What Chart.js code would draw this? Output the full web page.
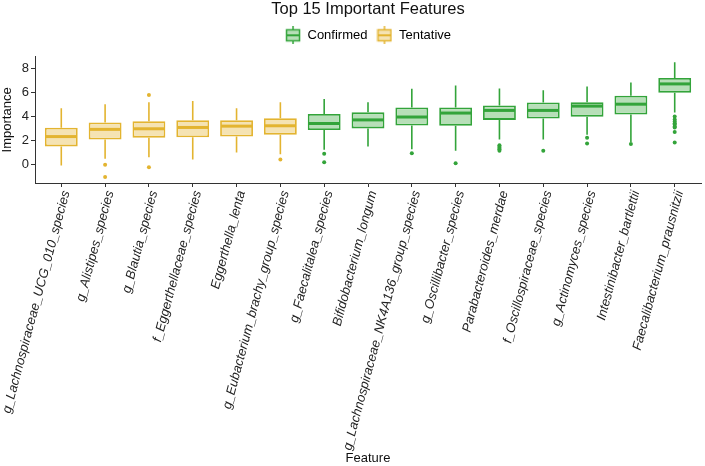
<!DOCTYPE html>
<html>
<head>
<meta charset="utf-8">
<script src="https://cdn.jsdelivr.net/npm/chart.js@4.4.1/dist/chart.umd.min.js"></script>
<style>
html, body { margin:0; padding:0; background:#fff; }
#wrap { width:705px; height:466px; }
</style>
</head>
<body>
<div id="wrap"><canvas id="chart"></canvas></div>
<script>
// 특징 이름 / 판정
var features = ['g_Lachnospiraceae_UCG_010_species', 'g_Alistipes_species', 'g_Blautia_species',
	'f_Eggerthellaceae_species', 'Eggerthella_lenta', 'g_Eubacterium_brachy_group_species',
	'g_Faecalitalea_species', 'Bifidobacterium_longum', 'g_Lachnospiraceae_NK4A136_group_species',
	'g_Oscillibacter_species', 'Parabacteroides_merdae', 'f_Oscillospiraceae_species',
	'g_Actinomyces_species', 'Intestinibacter_bartlettii', 'Faecalibacterium_prausnitzii'];
var decision = ['Tentative', 'Tentative', 'Tentative', 'Tentative', 'Tentative', 'Tentative',
	'Confirmed', 'Confirmed', 'Confirmed', 'Confirmed', 'Confirmed', 'Confirmed',
	'Confirmed', 'Confirmed', 'Confirmed'];

// 박스플롯 값
var whiskerLow  = [-0.12, 0.45, 0.57, 0.38, 0.97, 0.83, 1.20, 1.48, 1.25, 1.12, 2.05, 2.05, 2.45, 1.85, 4.30];
var q1          = [1.48, 2.05, 2.21, 2.24, 2.30, 2.46, 2.84, 2.98, 3.22, 3.20, 3.69, 3.80, 3.96, 4.13, 5.96];
var median      = [2.30, 2.90, 2.95, 3.06, 3.17, 3.20, 3.39, 3.69, 3.93, 4.26, 4.48, 4.48, 4.84, 5.00, 6.69];
var q3          = [3.03, 3.47, 3.58, 3.66, 3.66, 3.83, 4.18, 4.32, 4.73, 4.73, 4.89, 5.14, 5.16, 5.71, 7.19];
var whiskerHigh = [4.67, 5.00, 5.16, 5.27, 4.67, 5.16, 5.44, 5.16, 6.28, 6.56, 6.31, 6.17, 6.48, 6.80, 8.50];
var outliers = [[], [-0.05, -1.07], [5.77, -0.25], [], [], [0.38], [0.87, 0.16], [], [0.90], [0.08],
	[1.58, 1.45, 1.35, 1.25, 1.12], [1.12], [2.20, 1.72], [1.68],
	[3.98, 3.72, 3.55, 3.42, 3.30, 3.15, 3.05, 2.68, 1.80]];

var yTicks = [0, 2, 4, 6, 8];
var groups = ['Confirmed', 'Tentative'];

var strokes = { Confirmed: '#33a43a', Tentative: '#e3b430' };
var fills = { Confirmed: '#b7dfb8', Tentative: '#f5e3b3' };
var boxRatio = 0.75;

// 범례 아이콘
function makeIcon(stroke, fill) {
	var c = document.createElement('canvas');
	c.width = 16; c.height = 18;
	var g = c.getContext('2d');
	g.strokeStyle = stroke;
	g.lineWidth = 1.5;
	g.beginPath(); g.moveTo(8, 0); g.lineTo(8, 18); g.stroke();
	g.fillStyle = fill;
	g.fillRect(1.5, 3.5, 13, 11);
	g.strokeRect(1.5, 3.5, 13, 11);
	g.lineWidth = 2;
	g.beginPath(); g.moveTo(1.5, 9); g.lineTo(14.5, 9); g.stroke();
	return c;
}

var datasets = [];
groups.forEach(function (grp) {
	var boxes = [];
	features.forEach(function (f, i) {
		if (decision[i] == grp) boxes.push({ x: i, y: [q1[i], q3[i]] });
	});
	datasets.push({
		type: 'bar', label: grp, data: boxes,
		backgroundColor: fills[grp], borderColor: strokes[grp], borderWidth: 1.8,
		borderSkipped: false, grouped: false,
		barPercentage: boxRatio, categoryPercentage: 1
	});
});
groups.forEach(function (grp) {
	var pts = [];
	features.forEach(function (f, i) {
		if (decision[i] != grp) return;
		outliers[i].forEach(function (v) { pts.push({ x: i, y: v }); });
	});
	datasets.push({
		type: 'scatter', label: grp + ' outliers', data: pts,
		backgroundColor: strokes[grp], borderWidth: 0, pointRadius: 2
	});
});

// 수염, 중앙값 그리기
var boxPlugin = {
	id: 'boxParts',
	beforeLayout: function (chart) {
		var lg = chart.legend;
		if (lg && !lg._patched) {
			var fit = lg.fit;
			lg.fit = function () { fit.call(this); this.height += 5; };
			lg._patched = true;
		}
	},
	afterLayout: function (chart) {
		// 제목과 범례를 플롯 영역 가운데로
		var area = chart.chartArea;
		[chart.titleBlock, chart.legend].forEach(function (b) {
			if (!b) return;
			b.left = area.left;
			b.right = area.right;
			b.width = area.right - area.left;
		});
	},
	beforeDatasetsDraw: function (chart) {
		var ctx = chart.ctx, xs = chart.scales.x, ys = chart.scales.y;
		ctx.save();
		ctx.lineWidth = 1.6;
		features.forEach(function (f, i) {
			var x = xs.getPixelForValue(i);
			ctx.strokeStyle = strokes[decision[i]];
			ctx.beginPath();
			ctx.moveTo(x, ys.getPixelForValue(whiskerLow[i]));
			ctx.lineTo(x, ys.getPixelForValue(q1[i]));
			ctx.moveTo(x, ys.getPixelForValue(q3[i]));
			ctx.lineTo(x, ys.getPixelForValue(whiskerHigh[i]));
			ctx.stroke();
		});
		ctx.restore();
	},
	afterDatasetsDraw: function (chart) {
		var ctx = chart.ctx, xs = chart.scales.x, ys = chart.scales.y;
		var half = (xs.getPixelForValue(1) - xs.getPixelForValue(0)) * boxRatio / 2;
		ctx.save();
		ctx.lineWidth = 3;
		features.forEach(function (f, i) {
			var x = xs.getPixelForValue(i), y = ys.getPixelForValue(median[i]);
			ctx.strokeStyle = strokes[decision[i]];
			ctx.beginPath();
			ctx.moveTo(x - half + 1, y);
			ctx.lineTo(x + half - 1, y);
			ctx.stroke();
		});
		ctx.restore();
	}
};

var font = 'Liberation Sans, Arial, sans-serif';

new Chart(document.getElementById('chart'), {
	data: { datasets: datasets },
	plugins: [boxPlugin],
	options: {
		responsive: true,
		maintainAspectRatio: false,
		animation: false,
		devicePixelRatio: 1,
		layout: { padding: 0 },
		plugins: {
			title: {
				display: true, text: 'Top 15 Important Features',
				color: '#111', font: { family: font, size: 16.5, weight: 'normal', lineHeight: 1.2 },
				padding: { top: 0, bottom: 0 }
			},
			legend: {
				display: true, position: 'top', align: 'center',
				labels: {
					usePointStyle: true, pointStyleWidth: 16, padding: 9,
					color: '#111', font: { family: font, size: 13 },
					generateLabels: function () {
						return groups.map(function (g, k) {
							return { text: g, pointStyle: makeIcon(strokes[g], fills[g]), fillStyle: fills[g],
								strokeStyle: strokes[g], lineWidth: 0, hidden: false, datasetIndex: k };
						});
					}
				}
			},
			tooltip: { enabled: false }
		},
		scales: {
			x: {
				type: 'linear', min: -0.6, max: 14.6, offset: false,
				afterBuildTicks: function (scale) {
					scale.ticks = features.map(function (f, i) { return { value: i }; });
				},
				afterFit: function (scale) {
					scale.height = 283;
					scale.paddingLeft = 0;
					scale.paddingRight = 0;
				},
				grid: { display: true, offset: false, drawOnChartArea: false, drawTicks: true, tickLength: 4, color: '#333' },
				border: { display: true, color: '#333', width: 1 },
				ticks: {
					autoSkip: false, minRotation: 75, maxRotation: 75, padding: 2, labelOffset: 5,
					color: '#222', font: { family: font, size: 13, style: 'italic' },
					callback: function (v) { return features[v]; }
				},
				title: { display: true, text: 'Feature', color: '#111', font: { family: font, size: 13 }, padding: 0 }
			},
			y: {
				type: 'linear', min: -1.57, max: 8.95,
				afterBuildTicks: function (scale) {
					scale.ticks = yTicks.map(function (v) { return { value: v }; });
				},
				afterFit: function (scale) { scale.width = 35; },
				grid: { display: true, drawOnChartArea: false, drawTicks: true, tickLength: 4, color: '#333' },
				border: { display: true, color: '#333', width: 1 },
				ticks: { padding: 2, color: '#222', font: { family: font, size: 13 } },
				title: { display: true, text: 'Importance', color: '#111', font: { family: font, size: 13 }, padding: 0 }
			}
		}
	}
});
</script>
</body>
</html>
